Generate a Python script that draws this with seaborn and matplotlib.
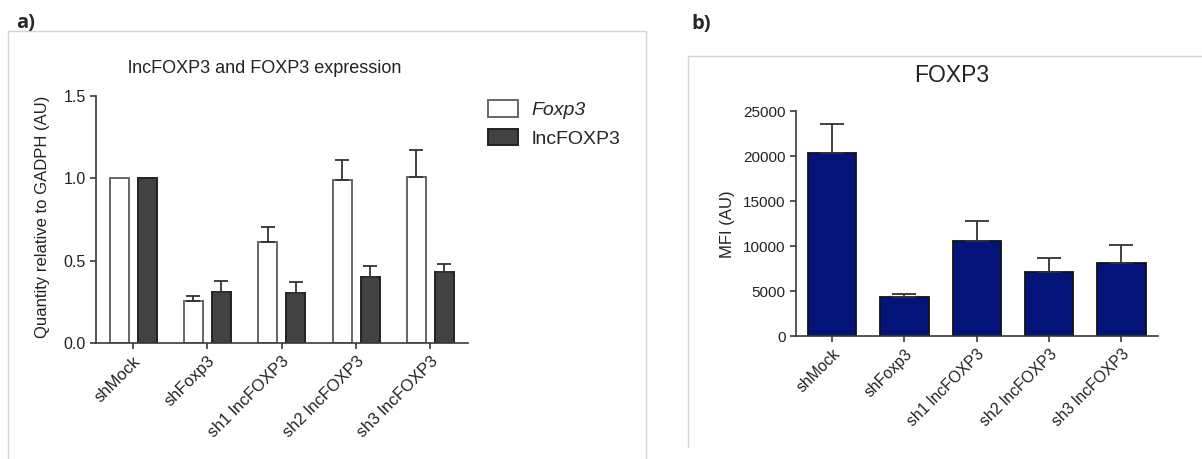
import numpy as np
import pandas as pd
import matplotlib
matplotlib.use("Agg")
import matplotlib.pyplot as plt
import seaborn as sns
from matplotlib.patches import Patch
from matplotlib.lines import Line2D

# ---------------- data ----------------
groups = ["shMock", "shFoxp3", "sh1 lncFOXP3", "sh2 lncFOXP3", "sh3 lncFOXP3"]
series_a = ["Foxp3", "lncFOXP3"]
foxp3_vals = [1.0, 0.255, 0.614, 0.988, 1.006]
foxp3_err = [0.0, 0.030, 0.091, 0.125, 0.166]
lnc_vals = [1.0, 0.311, 0.305, 0.402, 0.434]
lnc_err = [0.0, 0.065, 0.067, 0.065, 0.043]
yticks_a = [0.0, 0.5, 1.0, 1.5]

mfi_vals = [20400, 4310, 10580, 7160, 8100]
mfi_err = [3170, 400, 2260, 1560, 2000]
yticks_b = [0, 5000, 10000, 15000, 20000, 25000]

title_a = "lncFOXP3 and FOXP3 expression"
ylabel_a = "Quantity relative to GADPH (AU)"
title_b = "FOXP3"
ylabel_b = "MFI (AU)"

# ---------------- style ----------------
sns.set_theme(style="ticks")
plt.rcParams["font.family"] = ["Liberation Sans", "DejaVu Sans"]
AXC = "#3a3a3a"

W, H = 1202, 459
fig = plt.figure(figsize=(W / 100, H / 100), dpi=100)

def fx(px):
    return px / W

def fy(py):
    return 1 - py / H

# panel frames
frame_c = "#d4d4d4"
for (x0, y0, x1, y1) in [(8, 31, 8, 459), (8, 31, 646, 31), (646, 31, 646, 459),
                         (688, 56, 688, 447), (688, 56, 1202, 56)]:
    fig.add_artist(Line2D([fx(x0), fx(x1)], [fy(y0), fy(y1)], color=frame_c, lw=1.0))

fig.text(fx(16), fy(28), "a)", fontsize=14.5, fontweight="bold", va="baseline", ha="left",
         family=["Open Sans", "DejaVu Sans"])
fig.text(fx(691), fy(29), "b)", fontsize=14.5, fontweight="bold", va="baseline", ha="left",
         family=["Open Sans", "DejaVu Sans"])

def style_axis(ax):
    sns.despine(ax=ax)
    for s in ["left", "bottom"]:
        ax.spines[s].set_color(AXC)
        ax.spines[s].set_linewidth(1.2)
    ax.tick_params(axis="both", direction="out", length=4, width=1.2, color=AXC,
                   labelcolor="#222222")
    ax.grid(False)
    ax.set_facecolor("none")

# ---------------- panel a ----------------
ax_a = fig.add_axes([fx(96), fy(343), fx(467.5 - 96), (343 - 96) / H])
df_a = pd.DataFrame({
    "group": groups * 2,
    "target": [series_a[0]] * len(groups) + [series_a[1]] * len(groups),
    "value": foxp3_vals + lnc_vals,
})
pal_a = {series_a[0]: "white", series_a[1]: "#424242"}
sns.barplot(data=df_a, x="group", y="value", hue="target", hue_order=series_a,
            palette=pal_a, width=0.754, gap=0.32, errorbar=None, legend=False,
            linewidth=1.4, edgecolor="#555555", saturation=1, ax=ax_a)
edge_a = {0: "#666666", 1: "#222222"}
errs_a = [foxp3_err, lnc_err]
bar_conts_a = list(ax_a.containers)
for ci, cont in enumerate(bar_conts_a):
    for bi, bar in enumerate(cont.patches):
        bar.set_edgecolor(edge_a[ci])
        e = errs_a[ci][bi]
        if e > 0:
            xc = bar.get_x() + bar.get_width() / 2
            ax_a.errorbar(xc, bar.get_height(), yerr=[[0], [e]], fmt="none",
                          ecolor="#333333", elinewidth=1.3, capsize=5.2, capthick=1.3,
                          zorder=1)
ax_a.set_xlim(-0.5, 4.5)
ax_a.set_ylim(0, 1.5)
ax_a.set_yticks(yticks_a)
ax_a.set_yticklabels([f"{t:.1f}" for t in yticks_a], fontsize=11.5)
ax_a.set_xticks(range(len(groups)))
ax_a.set_xticklabels(groups, rotation=45, ha="right", rotation_mode="anchor", fontsize=12)
ax_a.set_xlabel("")
ax_a.set_ylabel(ylabel_a, fontsize=12, color="#222222")
ax_a.yaxis.set_label_coords(-0.125, 0.51)
style_axis(ax_a)
fig.text(fx(265), fy(73), title_a, fontsize=13, ha="center", va="baseline", color="#222222")

handles = [Patch(facecolor="white", edgecolor="#666666", linewidth=1.4),
           Patch(facecolor="#424242", edgecolor="#222222", linewidth=1.4)]
leg = fig.legend(handles, series_a, loc="upper left",
                 bbox_to_anchor=(fx(488), fy(100)), bbox_transform=fig.transFigure,
                 frameon=False, fontsize=14, handlelength=1.55, handleheight=0.93,
                 handletextpad=0.7, labelspacing=0.5, borderpad=0, borderaxespad=0)
leg.get_texts()[0].set_fontstyle("italic")

# ---------------- panel b ----------------
ax_b = fig.add_axes([fx(796), fy(336), fx(1157.5 - 796), (336 - 111.5) / H])
df_b = pd.DataFrame({"group": groups, "mfi": mfi_vals})
sns.barplot(data=df_b, x="group", y="mfi", color="#03137a", saturation=1, width=0.67,
            errorbar=None, linewidth=1.3, edgecolor="#111111", ax=ax_b)
bar_cont_b = list(ax_b.containers)[0]
for bi, bar in enumerate(bar_cont_b.patches):
    xc = bar.get_x() + bar.get_width() / 2
    ax_b.errorbar(xc, bar.get_height(), yerr=[[0], [mfi_err[bi]]], fmt="none",
                  ecolor="#333333", elinewidth=1.3, capsize=8.8, capthick=1.3, zorder=1)
ax_b.set_xlim(-0.5, 4.5)
ax_b.set_ylim(0, 25000)
ax_b.set_yticks(yticks_b)
ax_b.set_yticklabels([str(t) for t in yticks_b], fontsize=11)
ax_b.set_xticks(range(len(groups)))
ax_b.set_xticklabels(groups, rotation=45, ha="right", rotation_mode="anchor", fontsize=11.3)
ax_b.set_xlabel("")
ax_b.set_ylabel(ylabel_b, fontsize=12, color="#222222")
ax_b.yaxis.set_label_coords(-0.17, 0.5)
style_axis(ax_b)
fig.text(fx(952), fy(82), title_b, fontsize=16.5, ha="center", va="baseline", color="#222222")

fig.savefig("out.png", dpi=100, facecolor="white")
